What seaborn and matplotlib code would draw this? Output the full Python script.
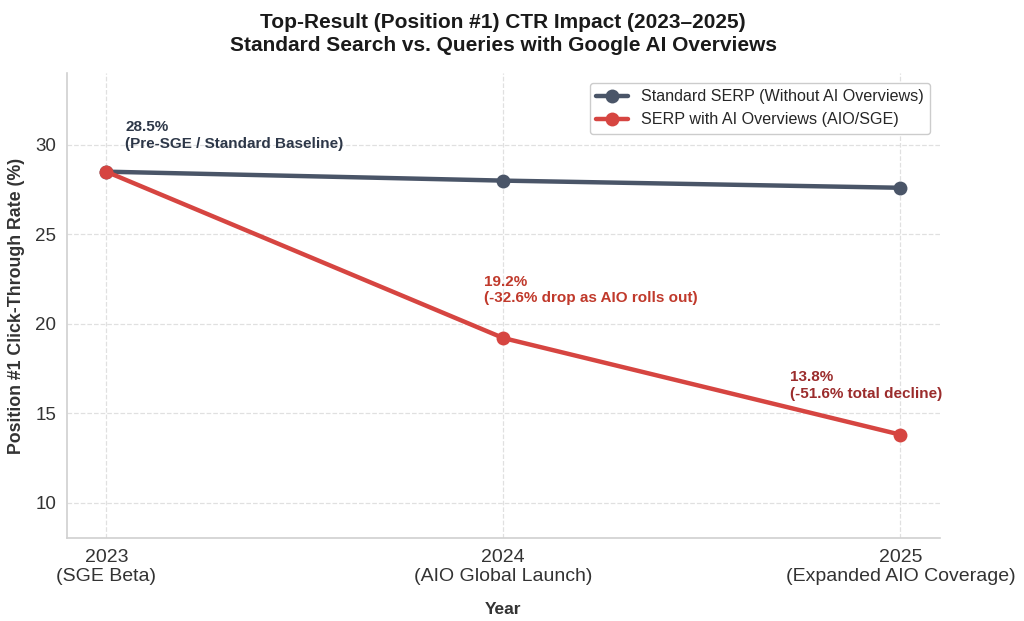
import pandas as pd
import matplotlib.pyplot as plt
import seaborn as sns

# data
years = [2023, 2024, 2025]
year_labels = ['2023\n(SGE Beta)', '2024\n(AIO Global Launch)',
               '2025\n(Expanded AIO Coverage)']
standard_ctr = [28.5, 28.0, 27.6]
aio_ctr = [28.5, 19.2, 13.8]
standard_name = 'Standard SERP (Without AI Overviews)'
aio_name = 'SERP with AI Overviews (AIO/SGE)'

df = pd.concat([
    pd.DataFrame({'year': years, 'ctr': standard_ctr, 'serp': standard_name}),
    pd.DataFrame({'year': years, 'ctr': aio_ctr, 'serp': aio_name}),
]).reset_index(drop=True)

sns.set_style('whitegrid')
plt.rcParams['font.family'] = ['Liberation Sans', 'DejaVu Sans']

slate = '#4a5568'
red = '#d64541'

fig, ax = plt.subplots(figsize=(10.24, 6.21), dpi=100)
sns.lineplot(data=df, x='year', y='ctr', hue='serp', marker='o',
             palette=[slate, red], linewidth=3.2, markersize=10,
             markeredgewidth=0, ax=ax)

# graph settings
ax.set_title('Top-Result (Position #1) CTR Impact (2023\u20132025)\n'
             'Standard Search vs. Queries with Google AI Overviews',
             fontsize=15, fontweight='bold', color='#1a1a1a', pad=16,
             linespacing=1.25)
ax.set_xlabel('Year', fontsize=12.5, fontweight='bold', color='#333333',
              labelpad=12)
ax.set_ylabel('Position #1 Click-Through Rate (%)', fontsize=12.8,
              fontweight='bold', color='#333333', labelpad=7)
ax.set_xticks(years)
ax.set_xticklabels(year_labels)
ax.set_xlim(2022.9, 2025.1)
ax.set_ylim(8, 34)
ax.set_yticks([10, 15, 20, 25, 30])
ax.tick_params(axis='x', labelsize=14, colors='#333333', length=4)
ax.tick_params(axis='y', labelsize=13.5, colors='#333333', length=4)

ax.grid(True, linestyle='--', color='#e0e0e0', linewidth=0.9)
for side in ['top', 'right']:
    ax.spines[side].set_visible(False)
for side in ['left', 'bottom']:
    ax.spines[side].set_color('#d0d0d0')
    ax.spines[side].set_linewidth(1.2)

# annotations
ax.annotate(f'{standard_ctr[0]}%\n(Pre-SGE / Standard Baseline)',
            xy=(years[0], standard_ctr[0]), xytext=(19, 21),
            textcoords='offset pixels', fontsize=11, fontweight='bold',
            color='#2d3748', va='bottom', ha='left')
ax.annotate(f'{aio_ctr[1]}%\n(-32.6% drop as AIO rolls out)',
            xy=(years[1], aio_ctr[1]), xytext=(-19, 33),
            textcoords='offset pixels', fontsize=11, fontweight='bold',
            color='#c0392b', va='bottom', ha='left')
ax.annotate(f'{aio_ctr[2]}%\n(-51.6% total decline)',
            xy=(years[2], aio_ctr[2]), xytext=(-110, 34),
            textcoords='offset pixels', fontsize=11, fontweight='bold',
            color='#9b2c2c', va='bottom', ha='left')

ax.legend(loc='upper right', fontsize=11.6, frameon=True, framealpha=1,
          edgecolor='#cccccc', title=None, borderaxespad=0.6)

plt.subplots_adjust(left=0.065, right=0.918, top=0.882, bottom=0.133)
plt.savefig('out.png', dpi=100)
